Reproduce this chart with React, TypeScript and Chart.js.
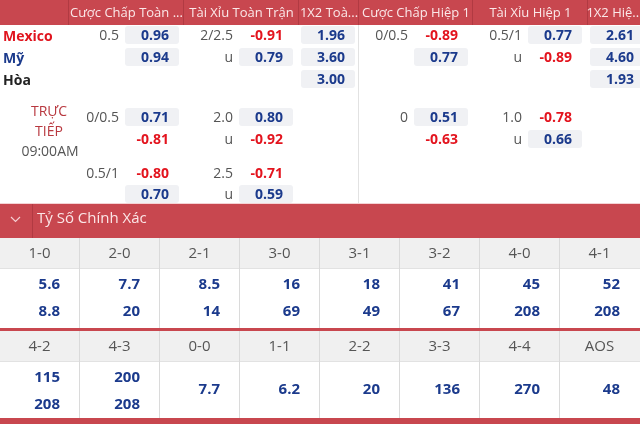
import React, { useEffect, useRef } from "react";
import { Chart, registerables } from "chart.js";

Chart.register(...registerables);

// ---------- DATA ----------
const headerLabels = ["", "Cược Chấp Toàn ...", "Tài Xỉu Toàn Trận", "1X2 Toà...", "Cược Chấp Hiệp 1", "Tài Xỉu Hiệp 1", "1X2 Hiệ..."];
const teams = ["Mexico", "Mỹ", "Hòa"];

const ftHandicapLines = ["0.5", ""];
const ftHandicapOdds = [0.96, 0.94];
const ftOverUnderLines = ["2/2.5", "u"];
const ftOverUnderOdds = [-0.91, 0.79];
const ft1x2Odds = [1.96, 3.6, 3.0];

const h1HandicapLines = ["0/0.5", ""];
const h1HandicapOdds = [-0.89, 0.77];
const h1OverUnderLines = ["0.5/1", "u"];
const h1OverUnderOdds = [0.77, -0.89];
const h11x2Odds = [2.61, 4.6, 1.93];

const liveLabels = ["TRỰC", "TIẾP", "09:00AM"];
const liveFtHandicapLines = ["0/0.5", "", "0.5/1", ""];
const liveFtHandicapOdds = [0.71, -0.81, -0.8, 0.7];
const liveFtOverUnderLines = ["2.0", "u", "2.5", "u"];
const liveFtOverUnderOdds = [0.8, -0.92, -0.71, 0.59];
const liveH1HandicapLines = ["0", ""];
const liveH1HandicapOdds = [0.51, -0.63];
const liveH1OverUnderLines = ["1.0", "u"];
const liveH1OverUnderOdds = [-0.78, 0.66];

const sectionTitle = "Tỷ Số Chính Xác";
const scoreLabelsA = ["1-0", "2-0", "2-1", "3-0", "3-1", "3-2", "4-0", "4-1"];
const scoreHomeA = [5.6, 7.7, 8.5, 16, 18, 41, 45, 52];
const scoreAwayA = [8.8, 20, 14, 69, 49, 67, 208, 208];
const scoreLabelsB = ["4-2", "4-3", "0-0", "1-1", "2-2", "3-3", "4-4", "AOS"];
const scoreHomeB = [115, 200, 7.7, 6.2, 20, 136, 270, 48];
const scoreAwayB: (number | null)[] = [208, 208, null, null, null, null, null, null];

// ---------- STYLE / LAYOUT ----------
const FONT = "'Open Sans', 'Noto Sans', sans-serif";
const RED_BG = "#c8474f";
const RED_DARK = "#b13a42";
const BLUE = "#1b3a8c";
const RED_TXT = "#e3141e";
const GRAY_TXT = "#555555";
const BOX_BG = "#f0f1f4";
const GRID = "#dadada";

const colEdges = [0, 68, 183, 298, 358, 472, 587, 640];
const rowsMain = [35, 57, 79];
const rowsLive = [117, 139, 173, 194];

type Market = { lineRight: number | null; boxL: number; boxR: number };
const mFtHcp: Market = { lineRight: 119, boxL: 125, boxR: 179 };
const mFtOU: Market = { lineRight: 233, boxL: 239, boxR: 293 };
const mFt1x2: Market = { lineRight: null, boxL: 301, boxR: 355 };
const mH1Hcp: Market = { lineRight: 408, boxL: 414, boxR: 468 };
const mH1OU: Market = { lineRight: 522, boxL: 528, boxR: 582 };
const mH11x2: Market = { lineRight: null, boxL: 590, boxR: 644 };

const fmtOdd = (v: number) => v.toFixed(2);
const fmtScore = (v: number) => String(v);

const tablePlugin = {
  id: "oddsTable",
  beforeDraw(chart: any) {
    const ctx: CanvasRenderingContext2D = chart.ctx;
    const xs = chart.scales.x;
    const ys = chart.scales.y;
    const X = (v: number) => xs.getPixelForValue(v);
    const Y = (v: number) => ys.getPixelForValue(v);

    const rect = (x0: number, y0: number, x1: number, y1: number, color: string) => {
      ctx.fillStyle = color;
      ctx.fillRect(X(x0), Y(y0), X(x1) - X(x0), Y(y1) - Y(y0));
    };
    const rrect = (x0: number, y0: number, x1: number, y1: number, r: number, color: string) => {
      ctx.fillStyle = color;
      ctx.beginPath();
      (ctx as any).roundRect(X(x0), Y(y0), X(x1) - X(x0), Y(y1) - Y(y0), r);
      ctx.fill();
    };
    const text = (s: string, x: number, y: number, align: CanvasTextAlign, font: string, color: string) => {
      ctx.font = font;
      ctx.fillStyle = color;
      ctx.textAlign = align;
      ctx.textBaseline = "middle";
      ctx.fillText(s, X(x), Y(y));
    };

    ctx.save();
    rect(0, 0, 640, 424, "#ffffff");

    // header
    rect(0, 0, 640, 25, RED_BG);
    for (let i = 1; i < colEdges.length - 1; i++) rect(colEdges[i], 0, colEdges[i] + 1, 25, RED_DARK);
    for (let i = 1; i < headerLabels.length; i++) {
      const c = (colEdges[i] + colEdges[i + 1]) / 2;
      text(headerLabels[i], c + 1, 13, "center", `13px ${FONT}`, "#fbe8e9");
    }

    // divider between full time / half time
    rect(358, 25, 359, 204, "#e2e2e2");

    // team names
    const teamColors = ["#e0141e", BLUE, "#222222"];
    teams.forEach((t, i) => text(t, 3, rowsMain[i] + 2, "left", `bold 14px ${FONT}`, teamColors[i]));

    const drawMarket = (m: Market, lines: string[] | null, odds: number[], rows: number[], alwaysBox: boolean) => {
      odds.forEach((v, i) => {
        const y = rows[i];
        if (alwaysBox || v > 0) rrect(m.boxL, y - 9, m.boxR, y + 9, 3, BOX_BG);
        if (lines && m.lineRight !== null && lines[i]) text(lines[i], m.lineRight, y + 1, "right", `14px ${FONT}`, GRAY_TXT);
        text(fmtOdd(v), m.boxR - 10, y + 1, "right", `bold 14px ${FONT}`, v < 0 ? RED_TXT : BLUE);
      });
    };

    drawMarket(mFtHcp, ftHandicapLines, ftHandicapOdds, rowsMain, false);
    drawMarket(mFtOU, ftOverUnderLines, ftOverUnderOdds, rowsMain, false);
    drawMarket(mFt1x2, null, ft1x2Odds, rowsMain, true);
    drawMarket(mH1Hcp, h1HandicapLines, h1HandicapOdds, rowsMain, false);
    drawMarket(mH1OU, h1OverUnderLines, h1OverUnderOdds, rowsMain, false);
    drawMarket(mH11x2, null, h11x2Odds, rowsMain, true);

    // live block
    text(liveLabels[0], 49, 112, "center", `14px ${FONT}`, "#b8383f");
    text(liveLabels[1], 49, 132, "center", `14px ${FONT}`, "#b8383f");
    text(liveLabels[2], 50, 152, "center", `14px ${FONT}`, GRAY_TXT);
    drawMarket(mFtHcp, liveFtHandicapLines, liveFtHandicapOdds, rowsLive, false);
    drawMarket(mFtOU, liveFtOverUnderLines, liveFtOverUnderOdds, rowsLive, false);
    drawMarket(mH1Hcp, liveH1HandicapLines, liveH1HandicapOdds, rowsLive, false);
    drawMarket(mH1OU, liveH1OverUnderLines, liveH1OverUnderOdds, rowsLive, false);

    // section bar
    rect(0, 203, 640, 204, "#f4d3d5");
    rect(0, 204, 640, 238, RED_BG);
    rect(32, 204, 33, 238, RED_DARK);
    ctx.strokeStyle = "#f5cfd2";
    ctx.lineWidth = 1.2;
    ctx.beginPath();
    ctx.moveTo(X(11), Y(217));
    ctx.lineTo(X(15.5), Y(221.5));
    ctx.lineTo(X(20), Y(217));
    ctx.stroke();
    text(sectionTitle, 37, 219, "left", `15px ${FONT}`, "#fbe6e7");

    // score grids
    const drawScoreBlock = (labels: string[], home: number[], away: (number | null)[], top: number) => {
      const hdrB = top + 30;
      const bottom = top + 90;
      rect(0, top, 640, hdrB, "#f0f0f0");
      rect(0, hdrB, 640, hdrB + 1, "#e2e2e2");
      labels.forEach((l, i) => {
        const x0 = i * 80;
        if (i > 0) rect(x0 - 1, top, x0, bottom, GRID);
        text(l, x0 + 39.5, top + 16, "center", `15px ${FONT}`, GRAY_TXT);
        const a = away[i];
        if (a === null || a === undefined) {
          text(fmtScore(home[i]), x0 + 60, top + 59, "right", `bold 15px ${FONT}`, BLUE);
        } else {
          text(fmtScore(home[i]), x0 + 60, top + 47, "right", `bold 15px ${FONT}`, BLUE);
          text(fmtScore(a), x0 + 60, top + 74, "right", `bold 15px ${FONT}`, BLUE);
        }
      });
    };

    drawScoreBlock(scoreLabelsA, scoreHomeA, scoreAwayA, 238);
    rect(0, 328, 640, 331, RED_BG);
    drawScoreBlock(scoreLabelsB, scoreHomeB, scoreAwayB, 331);
    rect(0, 418, 640, 424, RED_BG);

    ctx.restore();
  },
};

export default function App() {
  const ref = useRef<HTMLCanvasElement | null>(null);
  useEffect(() => {
    if (!ref.current) return;
    const chart = new Chart(ref.current, {
      type: "scatter",
      data: { datasets: [] },
      options: {
        animation: false,
        responsive: false,
        maintainAspectRatio: false,
        layout: { padding: 0 },
        plugins: { legend: { display: false }, tooltip: { enabled: false } },
        scales: {
          x: { type: "linear", min: 0, max: 640, display: false },
          y: { type: "linear", min: 0, max: 424, reverse: true, display: false },
        },
      },
      plugins: [tablePlugin],
    } as any);
    return () => chart.destroy();
  }, []);
  return (
    <div style={{ position: "absolute", left: 0, top: 0, width: 640, height: 424, background: "#fff" }}>
      <canvas ref={ref} width={640} height={424} style={{ display: "block", width: 640, height: 424 }} />
    </div>
  );
}
